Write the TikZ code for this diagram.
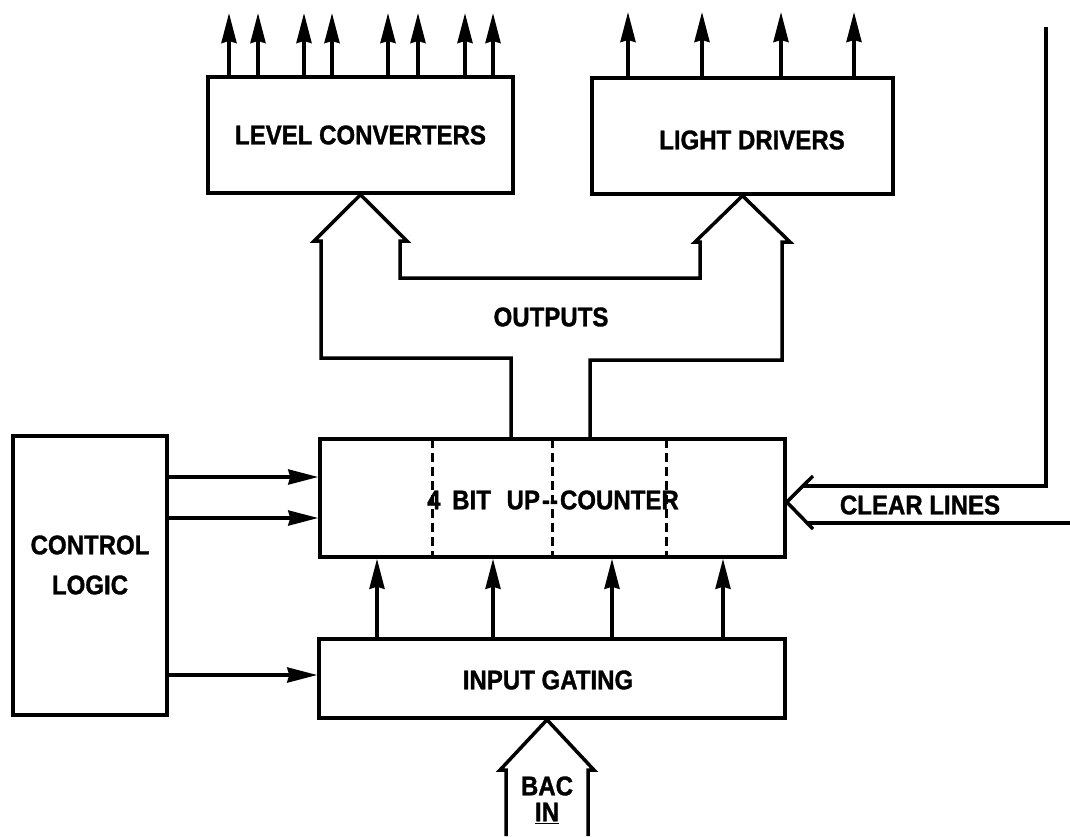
\documentclass[tikz,border=0pt]{standalone}
\usepackage{fontspec}
\setmainfont{Liberation Sans}
\newfontfamily\lettering[FakeStretch=0.89,BoldFeatures={FakeStretch=0.89,FakeBold=1.2}]{Liberation Sans}
\usetikzlibrary{arrows.meta,calc}
\begin{document}
\begin{tikzpicture}[x=1pt,y=-1pt,
  box/.style={draw, line width=3.5pt, rectangle, inner sep=0pt, align=center,
    font=\lettering\fontsize{27}{40}\selectfont\bfseries},
  arr/.style={line width=3.5pt, -{Stealth[length=30pt,width=15pt,inset=2pt]}},
  wire/.style={line width=3.5pt, line join=miter},
  divider/.style={line width=3pt, dash pattern=on 9pt off 5pt},
  lbl/.style={font=\lettering\fontsize{27}{40}\selectfont\bfseries, inner sep=0pt, align=center}]
\useasboundingbox (0,0) rectangle (1070,836);

% blocks
\node[box, minimum width=305pt, minimum height=116pt] (lc) at (360.5,135) {LEVEL CONVERTERS};
\node[box, minimum width=301pt, minimum height=116pt] (ld) at (742.5,136) {};
\node[lbl] (ldtxt) at (752,140) {LIGHT DRIVERS};
\node[box, minimum width=465pt, minimum height=118pt] (ctr) at (552.5,498) {};
\node[box, minimum width=466pt, minimum height=79pt] (ig) at (552,678.5) {};
\node[lbl] (igtxt) at (548,680) {INPUT GATING};
\node[box, minimum width=154pt, minimum height=279pt] (cl) at (90,575.5) {};
\node[lbl] (cltxt) at (90,565) {CONTROL\\LOGIC};

% counter stages
\foreach \x in {432,552,666}
  \draw[divider] (\x,439) -- (\x,557);
\node[lbl] (ctrtxt) at (553,500) {4\hspace{5pt} BIT\hspace{9pt} UP\kern2pt--\kern2pt COUNTER};

% output arrows
\foreach \x in {229,258,304,332,388,418,465,493}
  \draw[arr] (lc.north -| \x,0) -- (\x,13);
\foreach \x in {628,702,781,854}
  \draw[arr] (ld.north -| \x,0) -- (\x,12);

% outputs bus
\draw[wire] (ctr.north -| 511,0) -- (511,358) -- (321,358) -- (321,241) -- (314,241)
  -- (lc.south) -- (407,241) -- (400,241) -- (400,278) -- (700,278) -- (700,242)
  -- (695,242) -- (ld.south) -- (790,242) -- (782,242) -- (782,360) -- (590,360)
  -- (ctr.north -| 590,0);
\node[lbl] (outtxt) at (551,317) {OUTPUTS};

% clear lines
\coordinate (clrtop) at (1046,27);
\coordinate (clrend) at (1070,523);
\draw[wire] (clrtop) -- (1046,486) -- (803,486);
\draw[wire] (813,476) -- (ctr.east |- 0,502) -- (813,529);
\draw[wire] (807,523) -- (clrend);
\node[lbl] (clrtxt) at (920,505) {CLEAR LINES};

% control arrows
\foreach \y in {477,518}
  \draw[arr] (cl.east |- 0,\y) -- (ctr.west |- 0,\y);
\draw[arr] (cl.east |- 0,675) -- (ig.west |- 0,675);

% gating to counter
\foreach \x in {377,493,612,723}
  \draw[arr] (ig.north -| \x,0) -- (ctr.south -| \x,0);

% BAC IN
\coordinate (bacL) at (506,836);
\coordinate (bacR) at (588,836);
\draw[wire] (bacL) -- (506,770) -- (500,770) -- (ig.south -| 547,0) -- (594,770)
  -- (588,770) -- (bacR);
\node[lbl] (bac) at (547,786) {BAC};
\node[lbl] (in) at (547,813) {\underline{IN}};
\end{tikzpicture}
\end{document}
